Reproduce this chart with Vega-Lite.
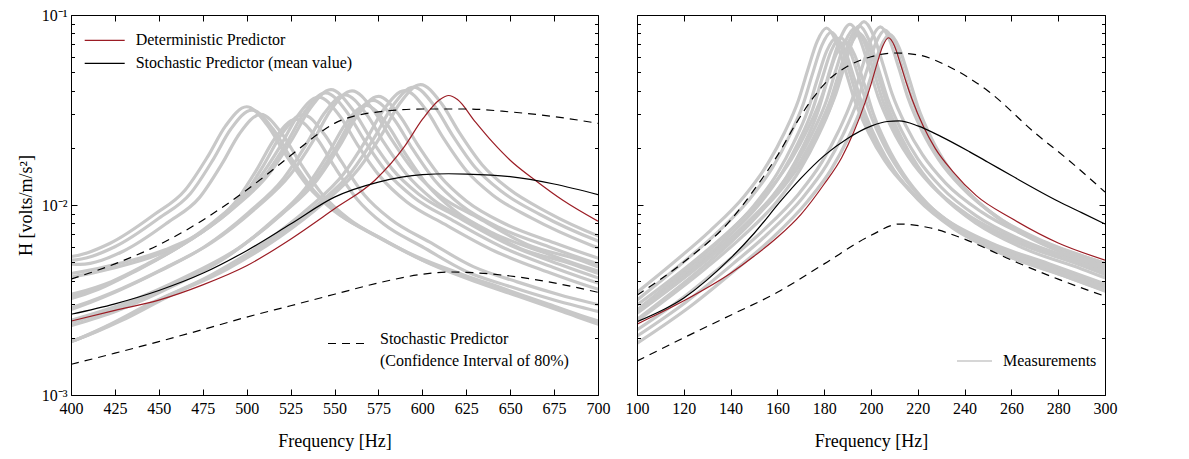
{
"$schema": "https://vega.github.io/schema/vega-lite/v6.json",
"background": "white",
"padding": {"left": 17, "top": 7, "right": 5, "bottom": 5},
"autosize": {"type": "pad"},
"spacing": 39,
"bounds": "flush",
"datasets": {
"leftGray": [
{"c":"A1","f":385,"h":0.00525},{"c":"A1","f":400,"h":0.00513},{"c":"A1","f":425,"h":0.00603},{"c":"A1","f":450,"h":0.00851},{"c":"A1","f":468,"h":0.0115},{"c":"A1","f":481,"h":0.0174},{"c":"A1","f":491,"h":0.0251},{"c":"A1","f":503,"h":0.0316},{"c":"A1","f":515,"h":0.0251},{"c":"A1","f":525,"h":0.0178},{"c":"A1","f":538,"h":0.0120},{"c":"A1","f":553,"h":0.00891},{"c":"A1","f":575,"h":0.00676},{"c":"A1","f":600,"h":0.00513},{"c":"A1","f":625,"h":0.00417},{"c":"A1","f":650,"h":0.00347},{"c":"A1","f":675,"h":0.00288},{"c":"A1","f":700,"h":0.00240},{"c":"A1","f":715,"h":0.00219},
{"c":"A2","f":390,"h":0.00499},{"c":"A2","f":405,"h":0.00487},{"c":"A2","f":430,"h":0.00573},{"c":"A2","f":455,"h":0.00808},{"c":"A2","f":473,"h":0.0109},{"c":"A2","f":486,"h":0.0165},{"c":"A2","f":496,"h":0.0238},{"c":"A2","f":508,"h":0.0300},{"c":"A2","f":520,"h":0.0238},{"c":"A2","f":530,"h":0.0169},{"c":"A2","f":543,"h":0.0114},{"c":"A2","f":558,"h":0.00846},{"c":"A2","f":580,"h":0.00642},{"c":"A2","f":605,"h":0.00487},{"c":"A2","f":630,"h":0.00396},{"c":"A2","f":655,"h":0.00330},{"c":"A2","f":680,"h":0.00274},{"c":"A2","f":705,"h":0.00228},{"c":"A2","f":720,"h":0.00208},
{"c":"A3","f":382,"h":0.00546},{"c":"A3","f":397,"h":0.00534},{"c":"A3","f":422,"h":0.00627},{"c":"A3","f":447,"h":0.00885},{"c":"A3","f":465,"h":0.0120},{"c":"A3","f":478,"h":0.0181},{"c":"A3","f":488,"h":0.0261},{"c":"A3","f":500,"h":0.0329},{"c":"A3","f":512,"h":0.0261},{"c":"A3","f":522,"h":0.0185},{"c":"A3","f":535,"h":0.0125},{"c":"A3","f":550,"h":0.00927},{"c":"A3","f":572,"h":0.00703},{"c":"A3","f":597,"h":0.00534},{"c":"A3","f":622,"h":0.00434},{"c":"A3","f":647,"h":0.00361},{"c":"A3","f":672,"h":0.00300},{"c":"A3","f":697,"h":0.00250},{"c":"A3","f":712,"h":0.00228},
{"c":"B1","f":385,"h":0.00398},{"c":"B1","f":400,"h":0.00417},{"c":"B1","f":425,"h":0.00468},{"c":"B1","f":450,"h":0.00550},{"c":"B1","f":475,"h":0.00724},{"c":"B1","f":493,"h":0.0102},{"c":"B1","f":506,"h":0.0155},{"c":"B1","f":516,"h":0.0224},{"c":"B1","f":528,"h":0.0282},{"c":"B1","f":540,"h":0.0224},{"c":"B1","f":550,"h":0.0159},{"c":"B1","f":563,"h":0.0107},{"c":"B1","f":578,"h":0.00794},{"c":"B1","f":600,"h":0.00603},{"c":"B1","f":625,"h":0.00447},{"c":"B1","f":650,"h":0.00372},{"c":"B1","f":675,"h":0.00316},{"c":"B1","f":700,"h":0.00275},{"c":"B1","f":715,"h":0.00251},
{"c":"B2","f":389,"h":0.00422},{"c":"B2","f":404,"h":0.00442},{"c":"B2","f":429,"h":0.00496},{"c":"B2","f":454,"h":0.00583},{"c":"B2","f":479,"h":0.00767},{"c":"B2","f":497,"h":0.0108},{"c":"B2","f":510,"h":0.0164},{"c":"B2","f":520,"h":0.0237},{"c":"B2","f":532,"h":0.0299},{"c":"B2","f":544,"h":0.0237},{"c":"B2","f":554,"h":0.0169},{"c":"B2","f":567,"h":0.0113},{"c":"B2","f":582,"h":0.00842},{"c":"B2","f":604,"h":0.00639},{"c":"B2","f":629,"h":0.00474},{"c":"B2","f":654,"h":0.00394},{"c":"B2","f":679,"h":0.00335},{"c":"B2","f":704,"h":0.00292},{"c":"B2","f":719,"h":0.00266},
{"c":"C1","f":385,"h":0.00309},{"c":"C1","f":400,"h":0.00331},{"c":"C1","f":420,"h":0.00380},{"c":"C1","f":440,"h":0.00468},{"c":"C1","f":465,"h":0.00631},{"c":"C1","f":490,"h":0.00933},{"c":"C1","f":510,"h":0.0141},{"c":"C1","f":523,"h":0.0214},{"c":"C1","f":533,"h":0.0309},{"c":"C1","f":545,"h":0.0389},{"c":"C1","f":557,"h":0.0309},{"c":"C1","f":567,"h":0.0219},{"c":"C1","f":580,"h":0.0148},{"c":"C1","f":595,"h":0.0110},{"c":"C1","f":617,"h":0.00832},{"c":"C1","f":645,"h":0.00603},{"c":"C1","f":675,"h":0.00468},{"c":"C1","f":700,"h":0.00389},{"c":"C1","f":715,"h":0.00355},
{"c":"C2","f":381,"h":0.00294},{"c":"C2","f":396,"h":0.00314},{"c":"C2","f":416,"h":0.00361},{"c":"C2","f":436,"h":0.00445},{"c":"C2","f":461,"h":0.00599},{"c":"C2","f":486,"h":0.00886},{"c":"C2","f":506,"h":0.0134},{"c":"C2","f":519,"h":0.0203},{"c":"C2","f":529,"h":0.0294},{"c":"C2","f":541,"h":0.0370},{"c":"C2","f":553,"h":0.0294},{"c":"C2","f":563,"h":0.0208},{"c":"C2","f":576,"h":0.0141},{"c":"C2","f":591,"h":0.0104},{"c":"C2","f":613,"h":0.00790},{"c":"C2","f":641,"h":0.00573},{"c":"C2","f":671,"h":0.00445},{"c":"C2","f":696,"h":0.00370},{"c":"C2","f":711,"h":0.00337},
{"c":"C3","f":388,"h":0.00321},{"c":"C3","f":403,"h":0.00344},{"c":"C3","f":423,"h":0.00395},{"c":"C3","f":443,"h":0.00487},{"c":"C3","f":468,"h":0.00656},{"c":"C3","f":493,"h":0.00970},{"c":"C3","f":513,"h":0.0147},{"c":"C3","f":526,"h":0.0223},{"c":"C3","f":536,"h":0.0321},{"c":"C3","f":548,"h":0.0405},{"c":"C3","f":560,"h":0.0321},{"c":"C3","f":570,"h":0.0228},{"c":"C3","f":583,"h":0.0154},{"c":"C3","f":598,"h":0.0114},{"c":"C3","f":620,"h":0.00865},{"c":"C3","f":648,"h":0.00627},{"c":"C3","f":678,"h":0.00487},{"c":"C3","f":703,"h":0.00405},{"c":"C3","f":718,"h":0.00369},
{"c":"D1","f":385,"h":0.00257},{"c":"D1","f":400,"h":0.00282},{"c":"D1","f":425,"h":0.00347},{"c":"D1","f":450,"h":0.00447},{"c":"D1","f":476,"h":0.00603},{"c":"D1","f":501,"h":0.00912},{"c":"D1","f":521,"h":0.0138},{"c":"D1","f":534,"h":0.0209},{"c":"D1","f":544,"h":0.0302},{"c":"D1","f":556,"h":0.0380},{"c":"D1","f":568,"h":0.0302},{"c":"D1","f":578,"h":0.0214},{"c":"D1","f":591,"h":0.0145},{"c":"D1","f":606,"h":0.0107},{"c":"D1","f":628,"h":0.00813},{"c":"D1","f":656,"h":0.00589},{"c":"D1","f":685,"h":0.00490},{"c":"D1","f":700,"h":0.00437},{"c":"D1","f":715,"h":0.00398},
{"c":"D2","f":389,"h":0.00270},{"c":"D2","f":404,"h":0.00296},{"c":"D2","f":429,"h":0.00364},{"c":"D2","f":454,"h":0.00469},{"c":"D2","f":480,"h":0.00633},{"c":"D2","f":505,"h":0.00958},{"c":"D2","f":525,"h":0.0145},{"c":"D2","f":538,"h":0.0219},{"c":"D2","f":548,"h":0.0317},{"c":"D2","f":560,"h":0.0399},{"c":"D2","f":572,"h":0.0317},{"c":"D2","f":582,"h":0.0225},{"c":"D2","f":595,"h":0.0152},{"c":"D2","f":610,"h":0.0112},{"c":"D2","f":632,"h":0.00854},{"c":"D2","f":660,"h":0.00618},{"c":"D2","f":689,"h":0.00515},{"c":"D2","f":704,"h":0.00459},{"c":"D2","f":719,"h":0.00418},
{"c":"E1","f":385,"h":0.00219},{"c":"E1","f":400,"h":0.00240},{"c":"E1","f":430,"h":0.00295},{"c":"E1","f":462,"h":0.00398},{"c":"E1","f":492,"h":0.00562},{"c":"E1","f":517,"h":0.00851},{"c":"E1","f":537,"h":0.0129},{"c":"E1","f":550,"h":0.0195},{"c":"E1","f":560,"h":0.0282},{"c":"E1","f":572,"h":0.0355},{"c":"E1","f":584,"h":0.0282},{"c":"E1","f":594,"h":0.0200},{"c":"E1","f":607,"h":0.0135},{"c":"E1","f":622,"h":0.0100},{"c":"E1","f":644,"h":0.00759},{"c":"E1","f":672,"h":0.00603},{"c":"E1","f":700,"h":0.00490},{"c":"E1","f":715,"h":0.00447},
{"c":"E2","f":381,"h":0.00206},{"c":"E2","f":396,"h":0.00226},{"c":"E2","f":426,"h":0.00277},{"c":"E2","f":458,"h":0.00374},{"c":"E2","f":488,"h":0.00528},{"c":"E2","f":513,"h":0.00800},{"c":"E2","f":533,"h":0.0121},{"c":"E2","f":546,"h":0.0183},{"c":"E2","f":556,"h":0.0265},{"c":"E2","f":568,"h":0.0334},{"c":"E2","f":580,"h":0.0265},{"c":"E2","f":590,"h":0.0188},{"c":"E2","f":603,"h":0.0127},{"c":"E2","f":618,"h":0.0094},{"c":"E2","f":640,"h":0.00713},{"c":"E2","f":668,"h":0.00567},{"c":"E2","f":696,"h":0.00461},{"c":"E2","f":711,"h":0.00420},
{"c":"E3","f":388,"h":0.00230},{"c":"E3","f":403,"h":0.00252},{"c":"E3","f":433,"h":0.00310},{"c":"E3","f":465,"h":0.00418},{"c":"E3","f":495,"h":0.00590},{"c":"E3","f":520,"h":0.00894},{"c":"E3","f":540,"h":0.0135},{"c":"E3","f":553,"h":0.0205},{"c":"E3","f":563,"h":0.0296},{"c":"E3","f":575,"h":0.0373},{"c":"E3","f":587,"h":0.0296},{"c":"E3","f":597,"h":0.0210},{"c":"E3","f":610,"h":0.0142},{"c":"E3","f":625,"h":0.0105},{"c":"E3","f":647,"h":0.00797},{"c":"E3","f":675,"h":0.00633},{"c":"E3","f":703,"h":0.00515},{"c":"E3","f":718,"h":0.00469},
{"c":"F1","f":385,"h":0.00174},{"c":"F1","f":400,"h":0.00191},{"c":"F1","f":425,"h":0.00240},{"c":"F1","f":450,"h":0.00316},{"c":"F1","f":485,"h":0.00447},{"c":"F1","f":515,"h":0.00661},{"c":"F1","f":540,"h":0.0100},{"c":"F1","f":560,"h":0.0151},{"c":"F1","f":573,"h":0.0229},{"c":"F1","f":583,"h":0.0331},{"c":"F1","f":595,"h":0.0417},{"c":"F1","f":607,"h":0.0331},{"c":"F1","f":617,"h":0.0234},{"c":"F1","f":630,"h":0.0158},{"c":"F1","f":645,"h":0.0118},{"c":"F1","f":667,"h":0.00891},{"c":"F1","f":700,"h":0.00646},{"c":"F1","f":715,"h":0.00575},
{"c":"F2","f":380,"h":0.00167},{"c":"F2","f":395,"h":0.00183},{"c":"F2","f":420,"h":0.00230},{"c":"F2","f":445,"h":0.00303},{"c":"F2","f":480,"h":0.00429},{"c":"F2","f":510,"h":0.00635},{"c":"F2","f":535,"h":0.0096},{"c":"F2","f":555,"h":0.0145},{"c":"F2","f":568,"h":0.0220},{"c":"F2","f":578,"h":0.0318},{"c":"F2","f":590,"h":0.0400},{"c":"F2","f":602,"h":0.0318},{"c":"F2","f":612,"h":0.0225},{"c":"F2","f":625,"h":0.0152},{"c":"F2","f":640,"h":0.0113},{"c":"F2","f":662,"h":0.00855},{"c":"F2","f":695,"h":0.00620},{"c":"F2","f":710,"h":0.00552},
{"c":"F3","f":389,"h":0.00179},{"c":"F3","f":404,"h":0.00197},{"c":"F3","f":429,"h":0.00247},{"c":"F3","f":454,"h":0.00325},{"c":"F3","f":489,"h":0.00460},{"c":"F3","f":519,"h":0.00681},{"c":"F3","f":544,"h":0.0103},{"c":"F3","f":564,"h":0.0156},{"c":"F3","f":577,"h":0.0236},{"c":"F3","f":587,"h":0.0341},{"c":"F3","f":599,"h":0.0430},{"c":"F3","f":611,"h":0.0341},{"c":"F3","f":621,"h":0.0241},{"c":"F3","f":634,"h":0.0163},{"c":"F3","f":649,"h":0.0122},{"c":"F3","f":671,"h":0.00918},{"c":"F3","f":704,"h":0.00665},{"c":"F3","f":719,"h":0.00592}
],
"leftPred": [
{"s":"Deterministic Predictor","f":400,"h":0.00245},{"s":"Deterministic Predictor","f":425,"h":0.00279},{"s":"Deterministic Predictor","f":450,"h":0.00316},{"s":"Deterministic Predictor","f":475,"h":0.00380},{"s":"Deterministic Predictor","f":500,"h":0.00479},{"s":"Deterministic Predictor","f":525,"h":0.00661},{"s":"Deterministic Predictor","f":550,"h":0.00955},{"s":"Deterministic Predictor","f":573,"h":0.0135},{"s":"Deterministic Predictor","f":590,"h":0.0204},{"s":"Deterministic Predictor","f":600,"h":0.0282},{"s":"Deterministic Predictor","f":610,"h":0.0359},{"s":"Deterministic Predictor","f":615,"h":0.0377},{"s":"Deterministic Predictor","f":620,"h":0.0359},{"s":"Deterministic Predictor","f":630,"h":0.0275},{"s":"Deterministic Predictor","f":640,"h":0.0214},{"s":"Deterministic Predictor","f":650,"h":0.0172},{"s":"Deterministic Predictor","f":665,"h":0.01334},{"s":"Deterministic Predictor","f":680,"h":0.01059},{"s":"Deterministic Predictor","f":700,"h":0.00822},
{"s":"Stochastic Predictor (mean value)","f":400,"h":0.00266},{"s":"Stochastic Predictor (mean value)","f":425,"h":0.00302},{"s":"Stochastic Predictor (mean value)","f":450,"h":0.00355},{"s":"Stochastic Predictor (mean value)","f":475,"h":0.00437},{"s":"Stochastic Predictor (mean value)","f":500,"h":0.00575},{"s":"Stochastic Predictor (mean value)","f":525,"h":0.00794},{"s":"Stochastic Predictor (mean value)","f":550,"h":0.0110},{"s":"Stochastic Predictor (mean value)","f":575,"h":0.0132},{"s":"Stochastic Predictor (mean value)","f":600,"h":0.01445},{"s":"Stochastic Predictor (mean value)","f":615,"h":0.0146},{"s":"Stochastic Predictor (mean value)","f":625,"h":0.01455},{"s":"Stochastic Predictor (mean value)","f":650,"h":0.0141},{"s":"Stochastic Predictor (mean value)","f":675,"h":0.0129},{"s":"Stochastic Predictor (mean value)","f":700,"h":0.01135}
],
"leftUpper": [
{"f":400,"h":0.00407},{"f":425,"h":0.00490},{"f":450,"h":0.00617},{"f":475,"h":0.00832},{"f":500,"h":0.0120},{"f":525,"h":0.0182},{"f":540,"h":0.0234},{"f":550,"h":0.0269},{"f":562,"h":0.0295},{"f":575,"h":0.0309},{"f":600,"h":0.0320},{"f":625,"h":0.0320},{"f":650,"h":0.0309},{"f":675,"h":0.0292},{"f":700,"h":0.0269}
],
"leftLower": [
{"f":400,"h":0.00145},{"f":425,"h":0.00166},{"f":450,"h":0.00191},{"f":475,"h":0.00221},{"f":500,"h":0.00257},{"f":525,"h":0.00295},{"f":550,"h":0.00339},{"f":575,"h":0.00389},{"f":600,"h":0.00432},{"f":615,"h":0.00444},{"f":625,"h":0.00442},{"f":650,"h":0.00423},{"f":675,"h":0.00389},{"f":700,"h":0.00347}
],
"rightGray": [
{"c":"R1","f":95,"h":0.00282},{"c":"R1","f":118,"h":0.00479},{"c":"R1","f":133,"h":0.00692},{"c":"R1","f":148,"h":0.0107},{"c":"R1","f":158,"h":0.0158},{"c":"R1","f":165,"h":0.0229},{"c":"R1","f":171,"h":0.0339},{"c":"R1","f":175,"h":0.0490},{"c":"R1","f":179,"h":0.0692},{"c":"R1","f":183,"h":0.0813},{"c":"R1","f":187,"h":0.0692},{"c":"R1","f":191,"h":0.0490},{"c":"R1","f":195,"h":0.0339},{"c":"R1","f":201,"h":0.0229},{"c":"R1","f":208,"h":0.0162},{"c":"R1","f":218,"h":0.0115},{"c":"R1","f":233,"h":0.00813},{"c":"R1","f":253,"h":0.00603},{"c":"R1","f":278,"h":0.00468},{"c":"R1","f":305,"h":0.00355},
{"c":"R1b","f":97,"h":0.00262},{"c":"R1b","f":120,"h":0.00445},{"c":"R1b","f":135,"h":0.00644},{"c":"R1b","f":150,"h":0.00995},{"c":"R1b","f":160,"h":0.0147},{"c":"R1b","f":167,"h":0.0213},{"c":"R1b","f":173,"h":0.0315},{"c":"R1b","f":177,"h":0.0456},{"c":"R1b","f":181,"h":0.0644},{"c":"R1b","f":185,"h":0.0756},{"c":"R1b","f":189,"h":0.0644},{"c":"R1b","f":193,"h":0.0456},{"c":"R1b","f":197,"h":0.0315},{"c":"R1b","f":203,"h":0.0213},{"c":"R1b","f":210,"h":0.0151},{"c":"R1b","f":220,"h":0.0107},{"c":"R1b","f":235,"h":0.00756},{"c":"R1b","f":255,"h":0.00561},{"c":"R1b","f":280,"h":0.00435},{"c":"R1b","f":307,"h":0.00330},
{"c":"R1c","f":93,"h":0.00296},{"c":"R1c","f":116,"h":0.00503},{"c":"R1c","f":131,"h":0.00727},{"c":"R1c","f":146,"h":0.0112},{"c":"R1c","f":156,"h":0.0166},{"c":"R1c","f":163,"h":0.0240},{"c":"R1c","f":169,"h":0.0356},{"c":"R1c","f":173,"h":0.0515},{"c":"R1c","f":177,"h":0.0727},{"c":"R1c","f":181,"h":0.0854},{"c":"R1c","f":185,"h":0.0727},{"c":"R1c","f":189,"h":0.0515},{"c":"R1c","f":193,"h":0.0356},{"c":"R1c","f":199,"h":0.0240},{"c":"R1c","f":206,"h":0.0170},{"c":"R1c","f":216,"h":0.0121},{"c":"R1c","f":231,"h":0.00854},{"c":"R1c","f":251,"h":0.00633},{"c":"R1c","f":276,"h":0.00491},{"c":"R1c","f":303,"h":0.00373},
{"c":"R2","f":95,"h":0.00224},{"c":"R2","f":124,"h":0.00427},{"c":"R2","f":139,"h":0.00617},{"c":"R2","f":154,"h":0.00955},{"c":"R2","f":164,"h":0.0141},{"c":"R2","f":171,"h":0.0204},{"c":"R2","f":177,"h":0.0302},{"c":"R2","f":181,"h":0.0437},{"c":"R2","f":185,"h":0.0617},{"c":"R2","f":189,"h":0.0724},{"c":"R2","f":193,"h":0.0617},{"c":"R2","f":197,"h":0.0437},{"c":"R2","f":201,"h":0.0302},{"c":"R2","f":207,"h":0.0204},{"c":"R2","f":214,"h":0.0145},{"c":"R2","f":224,"h":0.0102},{"c":"R2","f":239,"h":0.00724},{"c":"R2","f":259,"h":0.00537},{"c":"R2","f":284,"h":0.00417},{"c":"R2","f":305,"h":0.00335},
{"c":"R2b","f":93,"h":0.00235},{"c":"R2b","f":122,"h":0.00448},{"c":"R2b","f":137,"h":0.00648},{"c":"R2b","f":152,"h":0.0100},{"c":"R2b","f":162,"h":0.0148},{"c":"R2b","f":169,"h":0.0214},{"c":"R2b","f":175,"h":0.0317},{"c":"R2b","f":179,"h":0.0459},{"c":"R2b","f":183,"h":0.0648},{"c":"R2b","f":187,"h":0.0760},{"c":"R2b","f":191,"h":0.0648},{"c":"R2b","f":195,"h":0.0459},{"c":"R2b","f":199,"h":0.0317},{"c":"R2b","f":205,"h":0.0214},{"c":"R2b","f":212,"h":0.0152},{"c":"R2b","f":222,"h":0.0107},{"c":"R2b","f":237,"h":0.00760},{"c":"R2b","f":257,"h":0.00564},{"c":"R2b","f":282,"h":0.00438},{"c":"R2b","f":303,"h":0.00352},
{"c":"R3","f":95,"h":0.00245},{"c":"R3","f":128,"h":0.00501},{"c":"R3","f":143,"h":0.00724},{"c":"R3","f":158,"h":0.0112},{"c":"R3","f":168,"h":0.0166},{"c":"R3","f":175,"h":0.0240},{"c":"R3","f":181,"h":0.0355},{"c":"R3","f":185,"h":0.0513},{"c":"R3","f":189,"h":0.0724},{"c":"R3","f":193,"h":0.0851},{"c":"R3","f":197,"h":0.0724},{"c":"R3","f":201,"h":0.0513},{"c":"R3","f":205,"h":0.0355},{"c":"R3","f":211,"h":0.0240},{"c":"R3","f":218,"h":0.0170},{"c":"R3","f":228,"h":0.0120},{"c":"R3","f":243,"h":0.00851},{"c":"R3","f":263,"h":0.00631},{"c":"R3","f":288,"h":0.00490},{"c":"R3","f":305,"h":0.00407},
{"c":"R3b","f":97,"h":0.00230},{"c":"R3b","f":130,"h":0.00471},{"c":"R3b","f":145,"h":0.00681},{"c":"R3b","f":160,"h":0.0105},{"c":"R3b","f":170,"h":0.0156},{"c":"R3b","f":177,"h":0.0226},{"c":"R3b","f":183,"h":0.0334},{"c":"R3b","f":187,"h":0.0482},{"c":"R3b","f":191,"h":0.0681},{"c":"R3b","f":195,"h":0.0800},{"c":"R3b","f":199,"h":0.0681},{"c":"R3b","f":203,"h":0.0482},{"c":"R3b","f":207,"h":0.0334},{"c":"R3b","f":213,"h":0.0226},{"c":"R3b","f":220,"h":0.0160},{"c":"R3b","f":230,"h":0.0113},{"c":"R3b","f":245,"h":0.00800},{"c":"R3b","f":265,"h":0.00593},{"c":"R3b","f":290,"h":0.00461},{"c":"R3b","f":307,"h":0.00383},
{"c":"R3c","f":93,"h":0.00257},{"c":"R3c","f":126,"h":0.00526},{"c":"R3c","f":141,"h":0.00760},{"c":"R3c","f":156,"h":0.0118},{"c":"R3c","f":166,"h":0.0174},{"c":"R3c","f":173,"h":0.0252},{"c":"R3c","f":179,"h":0.0373},{"c":"R3c","f":183,"h":0.0539},{"c":"R3c","f":187,"h":0.0760},{"c":"R3c","f":191,"h":0.0894},{"c":"R3c","f":195,"h":0.0760},{"c":"R3c","f":199,"h":0.0539},{"c":"R3c","f":203,"h":0.0373},{"c":"R3c","f":209,"h":0.0252},{"c":"R3c","f":216,"h":0.0179},{"c":"R3c","f":226,"h":0.0126},{"c":"R3c","f":241,"h":0.00894},{"c":"R3c","f":261,"h":0.00663},{"c":"R3c","f":286,"h":0.00515},{"c":"R3c","f":303,"h":0.00427},
{"c":"R4","f":95,"h":0.00245},{"c":"R4","f":132,"h":0.00543},{"c":"R4","f":147,"h":0.00785},{"c":"R4","f":162,"h":0.0122},{"c":"R4","f":172,"h":0.0180},{"c":"R4","f":179,"h":0.0260},{"c":"R4","f":185,"h":0.0385},{"c":"R4","f":189,"h":0.0556},{"c":"R4","f":193,"h":0.0785},{"c":"R4","f":197,"h":0.0923},{"c":"R4","f":201,"h":0.0785},{"c":"R4","f":205,"h":0.0556},{"c":"R4","f":209,"h":0.0385},{"c":"R4","f":215,"h":0.0260},{"c":"R4","f":222,"h":0.0184},{"c":"R4","f":232,"h":0.0130},{"c":"R4","f":247,"h":0.00923},{"c":"R4","f":267,"h":0.00684},{"c":"R4","f":292,"h":0.00531},{"c":"R4","f":305,"h":0.00468},
{"c":"R4b","f":93,"h":0.00233},{"c":"R4b","f":130,"h":0.00516},{"c":"R4b","f":145,"h":0.00746},{"c":"R4b","f":160,"h":0.0116},{"c":"R4b","f":170,"h":0.0171},{"c":"R4b","f":177,"h":0.0247},{"c":"R4b","f":183,"h":0.0366},{"c":"R4b","f":187,"h":0.0528},{"c":"R4b","f":191,"h":0.0746},{"c":"R4b","f":195,"h":0.0877},{"c":"R4b","f":199,"h":0.0746},{"c":"R4b","f":203,"h":0.0528},{"c":"R4b","f":207,"h":0.0366},{"c":"R4b","f":213,"h":0.0247},{"c":"R4b","f":220,"h":0.0175},{"c":"R4b","f":230,"h":0.0124},{"c":"R4b","f":245,"h":0.00877},{"c":"R4b","f":265,"h":0.00650},{"c":"R4b","f":290,"h":0.00504},{"c":"R4b","f":303,"h":0.00445},
{"c":"R5","f":95,"h":0.00186},{"c":"R5","f":121,"h":0.00309},{"c":"R5","f":141,"h":0.00490},{"c":"R5","f":156,"h":0.00708},{"c":"R5","f":171,"h":0.0110},{"c":"R5","f":181,"h":0.0162},{"c":"R5","f":188,"h":0.0234},{"c":"R5","f":194,"h":0.0347},{"c":"R5","f":198,"h":0.0501},{"c":"R5","f":202,"h":0.0708},{"c":"R5","f":206,"h":0.0832},{"c":"R5","f":210,"h":0.0708},{"c":"R5","f":214,"h":0.0501},{"c":"R5","f":218,"h":0.0347},{"c":"R5","f":224,"h":0.0234},{"c":"R5","f":231,"h":0.0166},{"c":"R5","f":241,"h":0.0118},{"c":"R5","f":256,"h":0.00832},{"c":"R5","f":276,"h":0.00617},{"c":"R5","f":301,"h":0.00479},{"c":"R5","f":305,"h":0.00462},
{"c":"R5b","f":93,"h":0.00193},{"c":"R5b","f":119,"h":0.00321},{"c":"R5b","f":139,"h":0.00510},{"c":"R5b","f":154,"h":0.00736},{"c":"R5b","f":169,"h":0.0114},{"c":"R5b","f":179,"h":0.0168},{"c":"R5b","f":186,"h":0.0243},{"c":"R5b","f":192,"h":0.0361},{"c":"R5b","f":196,"h":0.0521},{"c":"R5b","f":200,"h":0.0736},{"c":"R5b","f":204,"h":0.0865},{"c":"R5b","f":208,"h":0.0736},{"c":"R5b","f":212,"h":0.0521},{"c":"R5b","f":216,"h":0.0361},{"c":"R5b","f":222,"h":0.0243},{"c":"R5b","f":229,"h":0.0173},{"c":"R5b","f":239,"h":0.0123},{"c":"R5b","f":254,"h":0.00865},{"c":"R5b","f":274,"h":0.00642},{"c":"R5b","f":299,"h":0.00498},{"c":"R5b","f":303,"h":0.00480},
{"c":"R5c","f":97,"h":0.00177},{"c":"R5c","f":123,"h":0.00294},{"c":"R5c","f":143,"h":0.00466},{"c":"R5c","f":158,"h":0.00673},{"c":"R5c","f":173,"h":0.0105},{"c":"R5c","f":183,"h":0.0154},{"c":"R5c","f":190,"h":0.0222},{"c":"R5c","f":196,"h":0.0330},{"c":"R5c","f":200,"h":0.0476},{"c":"R5c","f":204,"h":0.0673},{"c":"R5c","f":208,"h":0.0790},{"c":"R5c","f":212,"h":0.0673},{"c":"R5c","f":216,"h":0.0476},{"c":"R5c","f":220,"h":0.0330},{"c":"R5c","f":226,"h":0.0222},{"c":"R5c","f":233,"h":0.0158},{"c":"R5c","f":243,"h":0.0112},{"c":"R5c","f":258,"h":0.00790},{"c":"R5c","f":278,"h":0.00586},{"c":"R5c","f":303,"h":0.00455},{"c":"R5c","f":307,"h":0.00439}
],
"rightPred": [
{"s":"Deterministic Predictor","f":100,"h":0.00236},{"s":"Deterministic Predictor","f":120,"h":0.00313},{"s":"Deterministic Predictor","f":140,"h":0.00437},{"s":"Deterministic Predictor","f":150,"h":0.00537},{"s":"Deterministic Predictor","f":160,"h":0.00676},{"s":"Deterministic Predictor","f":170,"h":0.00891},{"s":"Deterministic Predictor","f":180,"h":0.0129},{"s":"Deterministic Predictor","f":187.5,"h":0.0178},{"s":"Deterministic Predictor","f":192.5,"h":0.0240},{"s":"Deterministic Predictor","f":197.5,"h":0.0347},{"s":"Deterministic Predictor","f":200,"h":0.0432},{"s":"Deterministic Predictor","f":202.5,"h":0.0550},{"s":"Deterministic Predictor","f":205,"h":0.0684},{"s":"Deterministic Predictor","f":207.5,"h":0.0759},{"s":"Deterministic Predictor","f":210,"h":0.0689},{"s":"Deterministic Predictor","f":212.5,"h":0.0557},{"s":"Deterministic Predictor","f":215,"h":0.0444},{"s":"Deterministic Predictor","f":217.5,"h":0.0361},{"s":"Deterministic Predictor","f":222.5,"h":0.0257},{"s":"Deterministic Predictor","f":227.5,"h":0.0198},{"s":"Deterministic Predictor","f":235,"h":0.0150},{"s":"Deterministic Predictor","f":245,"h":0.0112},{"s":"Deterministic Predictor","f":260,"h":0.00851},{"s":"Deterministic Predictor","f":280,"h":0.00631},{"s":"Deterministic Predictor","f":300,"h":0.00513},
{"s":"Stochastic Predictor (mean value)","f":100,"h":0.00243},{"s":"Stochastic Predictor (mean value)","f":120,"h":0.00324},{"s":"Stochastic Predictor (mean value)","f":140,"h":0.00525},{"s":"Stochastic Predictor (mean value)","f":150,"h":0.00708},{"s":"Stochastic Predictor (mean value)","f":162,"h":0.0107},{"s":"Stochastic Predictor (mean value)","f":170,"h":0.0138},{"s":"Stochastic Predictor (mean value)","f":180,"h":0.0182},{"s":"Stochastic Predictor (mean value)","f":190,"h":0.0224},{"s":"Stochastic Predictor (mean value)","f":200,"h":0.0260},{"s":"Stochastic Predictor (mean value)","f":207,"h":0.0275},{"s":"Stochastic Predictor (mean value)","f":212,"h":0.0277},{"s":"Stochastic Predictor (mean value)","f":220,"h":0.0261},{"s":"Stochastic Predictor (mean value)","f":230,"h":0.0229},{"s":"Stochastic Predictor (mean value)","f":242,"h":0.0191},{"s":"Stochastic Predictor (mean value)","f":250,"h":0.0168},{"s":"Stochastic Predictor (mean value)","f":260,"h":0.01429},{"s":"Stochastic Predictor (mean value)","f":280,"h":0.01047},{"s":"Stochastic Predictor (mean value)","f":290,"h":0.00912},{"s":"Stochastic Predictor (mean value)","f":300,"h":0.00794}
],
"rightUpper": [
{"f":100,"h":0.00335},{"f":120,"h":0.00501},{"f":140,"h":0.00832},{"f":150,"h":0.0120},{"f":160,"h":0.0182},{"f":168,"h":0.0269},{"f":175,"h":0.0363},{"f":182,"h":0.0457},{"f":190,"h":0.0537},{"f":200,"h":0.0603},{"f":210,"h":0.0631},{"f":220,"h":0.0617},{"f":233,"h":0.0537},{"f":250,"h":0.0398},{"f":270,"h":0.0240},{"f":285,"h":0.0170},{"f":300,"h":0.0117}
],
"rightLower": [
{"f":100,"h":0.00151},{"f":120,"h":0.00200},{"f":140,"h":0.00263},{"f":160,"h":0.00347},{"f":180,"h":0.00490},{"f":200,"h":0.00692},{"f":212,"h":0.00794},{"f":225,"h":0.00759},{"f":240,"h":0.00661},{"f":260,"h":0.00513},{"f":280,"h":0.00407},{"f":300,"h":0.00331}
]
},
"hconcat": [
{
"width": 527, "height": 380,
"resolve": {"axis": {"x": "independent", "y": "independent"}},
"layer": [
{"data": {"name": "leftGray"},
 "mark": {"type": "line", "strokeWidth": 3.2, "clip": true, "interpolate": "monotone"},
 "encoding": {
  "x": {"field": "f", "type": "quantitative", "scale": {"domain": [400, 700], "nice": false, "zero": false},
        "axis": {"orient": "bottom", "values": [400,425,450,475,500,525,550,575,600,625,650,675,700], "title": "Frequency [Hz]", "labelFlush": false, "tickSize": -6, "labelPadding": 11, "titlePadding": 16, "grid": false, "zindex": 1}},
  "y": {"field": "h", "type": "quantitative", "scale": {"type": "log", "domain": [0.001, 0.1], "nice": false},
        "axis": {"orient": "left", "values": [0.001, 0.01, 0.1], "labelExpr": "datum.value > 0.05 ? '10⁻¹' : datum.value > 0.005 ? '10⁻²' : '10⁻³'", "title": "H [volts/m/s²]", "tickSize": -6, "labelPadding": 10, "titlePadding": 6, "grid": false, "zindex": 1}},
  "detail": {"field": "c"},
  "color": {"datum": "Measurements", "title": null,
            "scale": {"domain": ["Measurements", "Deterministic Predictor", "Stochastic Predictor (mean value)"], "range": ["#c8c8c8", "#9b1c24", "#000000"]},
            "legend": {"orient": "none", "legendX": 22.7, "legendY": 14.3, "values": ["Deterministic Predictor", "Stochastic Predictor (mean value)"], "title": null, "symbolType": "M-2,0H2", "symbolSize": 400, "symbolStrokeWidth": 1.2, "labelOffset": 20, "rowPadding": 4}}
 }},
{"data": {"name": "leftPred"},
 "mark": {"type": "line", "strokeWidth": 1.2, "clip": true, "interpolate": "monotone"},
 "encoding": {
  "x": {"field": "f", "type": "quantitative", "scale": {"domain": [400, 700], "nice": false, "zero": false},
        "axis": {"orient": "top", "values": [400,425,450,475,500,525,550,575,600,625,650,675,700], "labels": false, "title": null, "tickSize": -6, "grid": false, "zindex": 1}},
  "y": {"field": "h", "type": "quantitative", "scale": {"type": "log", "domain": [0.001, 0.1], "nice": false},
        "axis": {"orient": "left", "values": [0.002,0.003,0.004,0.005,0.006,0.007,0.008,0.009,0.02,0.03,0.04,0.05,0.06,0.07,0.08,0.09], "labels": false, "domain": false, "title": null, "tickSize": -3.5, "grid": false, "zindex": 1}},
  "color": {"field": "s", "type": "nominal", "title": null,
            "scale": {"domain": ["Measurements", "Deterministic Predictor", "Stochastic Predictor (mean value)"], "range": ["#c8c8c8", "#9b1c24", "#000000"]}}
 }},
{"data": {"name": "leftUpper"},
 "mark": {"type": "line", "strokeWidth": 1.2, "color": "black", "clip": true, "interpolate": "monotone"},
 "encoding": {
  "x": {"field": "f", "type": "quantitative", "scale": {"domain": [400, 700], "nice": false, "zero": false}, "axis": null},
  "y": {"field": "h", "type": "quantitative", "scale": {"type": "log", "domain": [0.001, 0.1], "nice": false},
        "axis": {"orient": "right", "values": [0.001, 0.01, 0.1], "labels": false, "title": null, "tickSize": -6, "grid": false, "zindex": 1}},
  "strokeDash": {"datum": "CI", "title": null, "scale": {"domain": ["CI"], "range": [[8, 6]]},
                 "legend": {"orient": "none", "legendX": 256, "legendY": 308, "title": null, "symbolType": "stroke", "symbolSize": 1521, "symbolStrokeColor": "black", "symbolStrokeWidth": 1.2, "labelOffset": 12, "labelBaseline": "alphabetic", "labelExpr": "['Stochastic Predictor', '(Confidence Interval of 80%)']"}}
 }},
{"data": {"name": "leftLower"},
 "mark": {"type": "line", "strokeWidth": 1.2, "color": "black", "clip": true, "interpolate": "monotone"},
 "encoding": {
  "x": {"field": "f", "type": "quantitative", "scale": {"domain": [400, 700], "nice": false, "zero": false}, "axis": null},
  "y": {"field": "h", "type": "quantitative", "scale": {"type": "log", "domain": [0.001, 0.1], "nice": false},
        "axis": {"orient": "right", "values": [0.002,0.003,0.004,0.005,0.006,0.007,0.008,0.009,0.02,0.03,0.04,0.05,0.06,0.07,0.08,0.09], "labels": false, "domain": false, "title": null, "tickSize": -3.5, "grid": false, "zindex": 1}},
  "strokeDash": {"datum": "CI", "title": null, "scale": {"domain": ["CI"], "range": [[8, 6]]}}
 }}
]
},
{
"width": 468, "height": 380,
"resolve": {"axis": {"x": "independent", "y": "independent"}},
"layer": [
{"data": {"name": "rightGray"},
 "mark": {"type": "line", "strokeWidth": 3.2, "clip": true, "interpolate": "monotone"},
 "encoding": {
  "x": {"field": "f", "type": "quantitative", "scale": {"domain": [100, 300], "nice": false, "zero": false},
        "axis": {"orient": "bottom", "values": [100,120,140,160,180,200,220,240,260,280,300], "title": "Frequency [Hz]", "labelFlush": false, "tickSize": -6, "labelPadding": 11, "titlePadding": 16, "grid": false, "zindex": 1}},
  "y": {"field": "h", "type": "quantitative", "scale": {"type": "log", "domain": [0.001, 0.1], "nice": false},
        "axis": {"orient": "left", "values": [0.001, 0.01, 0.1], "labels": false, "title": null, "tickSize": -6, "grid": false, "zindex": 1}},
  "detail": {"field": "c"},
  "color": {"datum": "Measurements", "title": null,
            "scale": {"domain": ["Measurements", "Deterministic Predictor", "Stochastic Predictor (mean value)"], "range": ["#c8c8c8", "#9b1c24", "#000000"]},
            "legend": {"orient": "none", "legendX": 319, "legendY": 327.5, "values": ["Measurements"], "title": null, "symbolType": "stroke", "symbolSize": 1225, "symbolStrokeWidth": 1.5, "labelOffset": 10}}
 }},
{"data": {"name": "rightPred"},
 "mark": {"type": "line", "strokeWidth": 1.2, "clip": true, "interpolate": "monotone"},
 "encoding": {
  "x": {"field": "f", "type": "quantitative", "scale": {"domain": [100, 300], "nice": false, "zero": false},
        "axis": {"orient": "top", "values": [100,120,140,160,180,200,220,240,260,280,300], "labels": false, "title": null, "tickSize": -6, "grid": false, "zindex": 1}},
  "y": {"field": "h", "type": "quantitative", "scale": {"type": "log", "domain": [0.001, 0.1], "nice": false},
        "axis": {"orient": "left", "values": [0.002,0.003,0.004,0.005,0.006,0.007,0.008,0.009,0.02,0.03,0.04,0.05,0.06,0.07,0.08,0.09], "labels": false, "domain": false, "title": null, "tickSize": -3.5, "grid": false, "zindex": 1}},
  "color": {"field": "s", "type": "nominal", "title": null,
            "scale": {"domain": ["Measurements", "Deterministic Predictor", "Stochastic Predictor (mean value)"], "range": ["#c8c8c8", "#9b1c24", "#000000"]}}
 }},
{"data": {"name": "rightUpper"},
 "mark": {"type": "line", "strokeWidth": 1.2, "color": "black", "clip": true, "interpolate": "monotone"},
 "encoding": {
  "x": {"field": "f", "type": "quantitative", "scale": {"domain": [100, 300], "nice": false, "zero": false}, "axis": null},
  "y": {"field": "h", "type": "quantitative", "scale": {"type": "log", "domain": [0.001, 0.1], "nice": false},
        "axis": {"orient": "right", "values": [0.001, 0.01, 0.1], "labels": false, "title": null, "tickSize": -6, "grid": false, "zindex": 1}},
  "strokeDash": {"datum": "CI", "scale": {"domain": ["CI"], "range": [[8, 6]]}, "legend": null}
 }},
{"data": {"name": "rightLower"},
 "mark": {"type": "line", "strokeWidth": 1.2, "color": "black", "clip": true, "interpolate": "monotone"},
 "encoding": {
  "x": {"field": "f", "type": "quantitative", "scale": {"domain": [100, 300], "nice": false, "zero": false}, "axis": null},
  "y": {"field": "h", "type": "quantitative", "scale": {"type": "log", "domain": [0.001, 0.1], "nice": false},
        "axis": {"orient": "right", "values": [0.002,0.003,0.004,0.005,0.006,0.007,0.008,0.009,0.02,0.03,0.04,0.05,0.06,0.07,0.08,0.09], "labels": false, "domain": false, "title": null, "tickSize": -3.5, "grid": false, "zindex": 1}},
  "strokeDash": {"datum": "CI", "scale": {"domain": ["CI"], "range": [[8, 6]]}, "legend": null}
 }}
]
}
],
"resolve": {"scale": {"color": "independent", "strokeDash": "independent"}},
"config": {
 "view": {"stroke": null},
 "axis": {"labelFont": "Liberation Serif", "labelFontSize": 16, "labelColor": "#000", "titleFont": "Liberation Serif", "titleFontSize": 18, "titleFontWeight": "normal", "titleColor": "#000", "domainColor": "#000", "domainWidth": 1, "tickColor": "#000", "tickWidth": 1},
 "legend": {"labelFont": "Liberation Serif", "labelFontSize": 16, "labelColor": "#000", "labelLimit": 0, "padding": 0},
 "style": {"guide-label": {"lineHeight": 22}}
}
}
